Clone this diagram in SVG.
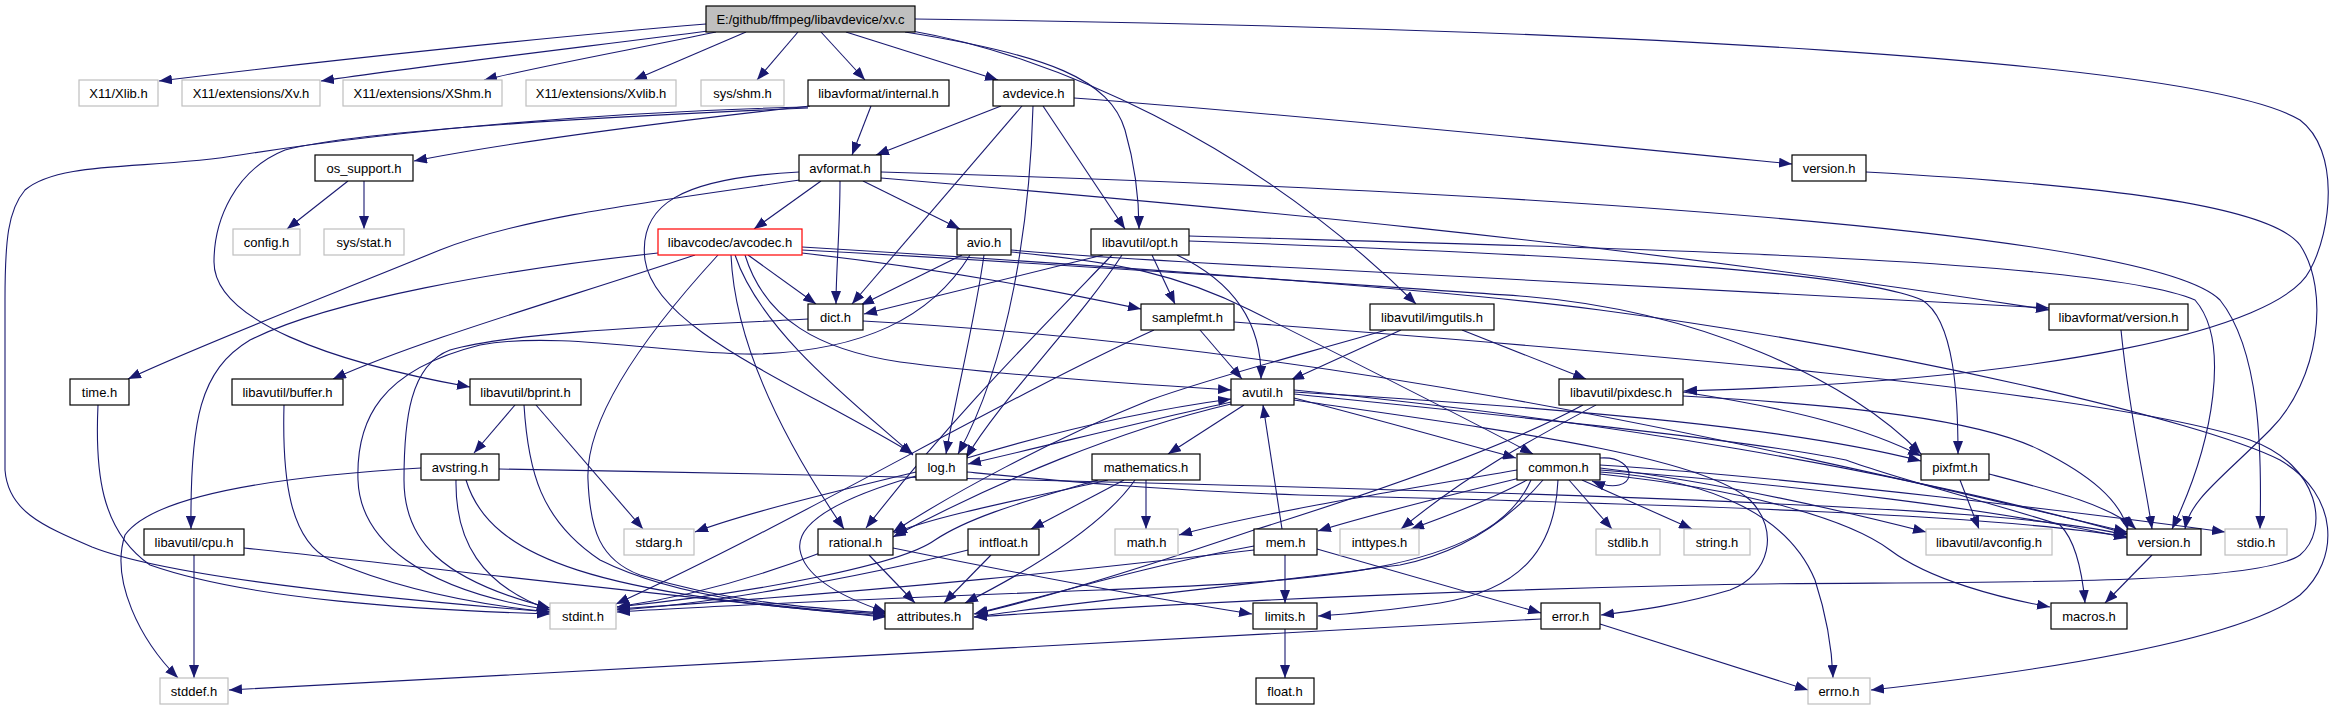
<svg xmlns="http://www.w3.org/2000/svg" width="2335" height="709" viewBox="0 0 2335 709">
<style>
.n rect{fill:#fff;stroke:#000;stroke-width:1.2}
.g rect{fill:#fff;stroke:#bfbfbf;stroke-width:1.2}
.r rect{fill:#fff;stroke:#ff0000;stroke-width:1.2}
.root rect{fill:#bfbfbf;stroke:#000;stroke-width:1.2}
text{font-family:"Liberation Sans",Arial,sans-serif;font-size:13px;text-anchor:middle;fill:#000}
#edges path{fill:none;stroke:#191970;stroke-width:1.1;marker-end:url(#a)}
</style>
<defs>
<marker id="a" viewBox="0 0 13 10" refX="13" refY="5" markerWidth="13" markerHeight="10" orient="auto" markerUnits="userSpaceOnUse"><path d="M0,0L13,5L0,10z" fill="#191970"/></marker>
</defs>
<rect width="2335" height="709" fill="#fff"/>
<g id="edges">
<path d="M706,24 C560,36 330,60 159,81"/>
<path d="M708,31 C600,45 430,65 321,81"/>
<path d="M716,32 C640,48 550,64 484,80"/>
<path d="M746,32 L634,80"/>
<path d="M798,32 L757,80"/>
<path d="M821,32 L865,80"/>
<path d="M846,32 L998,80"/>
<path d="M905,32 C1050,55 1110,80 1125,130 C1135,165 1139,200 1139,229"/>
<path d="M912,31 C1050,55 1250,140 1416,304"/>
<path d="M915,19 C1600,28 2200,60 2300,120 C2340,150 2332,230 2310,270 C2280,330 2050,380 1684,391"/>
<path d="M871,106 L852,155"/>
<path d="M810,106 C700,118 520,140 414,161"/>
<path d="M808,107 C600,112 400,130 240,155 C150,170 60,160 25,190 C8,210 5,240 5,300 L5,470 C8,510 40,525 92,547 C150,570 300,592 550,612"/>
<path d="M808,108 C620,116 360,130 285,150 C235,170 214,220 214,262 C214,320 330,362 470,387"/>
<path d="M1001,106 L876,155"/>
<path d="M1022,106 L852,304"/>
<path d="M1033,106 C1030,220 1010,360 958,454"/>
<path d="M1043,106 L1125,229"/>
<path d="M1074,98 C1300,115 1600,145 1792,164"/>
<path d="M821,181 L754,229"/>
<path d="M840,181 C840,230 836,270 836,304"/>
<path d="M863,181 L960,229"/>
<path d="M799,172 C680,178 638,205 645,260 C655,330 800,385 913,454"/>
<path d="M800,180 C640,203 520,218 440,250 C330,295 200,345 128,379"/>
<path d="M881,172 C1500,190 2150,230 2220,300 C2260,350 2262,450 2260,529"/>
<path d="M881,178 C1200,205 1600,240 2049,310"/>
<path d="M1866,172 C2100,185 2270,205 2300,245 C2330,290 2320,380 2270,430 C2220,480 2190,500 2185,529"/>
<path d="M348,181 L287,229"/>
<path d="M364,181 L364,229"/>
<path d="M748,255 L816,304"/>
<path d="M802,253 C950,270 1050,290 1141,309"/>
<path d="M745,255 C765,320 820,350 900,362 C1000,375 1150,385 1231,390"/>
<path d="M735,255 C760,330 850,400 913,455"/>
<path d="M731,255 C735,350 790,450 844,529"/>
<path d="M718,255 C640,340 585,420 588,480 C590,530 600,560 640,575 C720,600 800,608 886,613"/>
<path d="M658,253 C500,270 330,300 250,340 C200,370 190,420 191,529"/>
<path d="M695,255 C560,300 420,340 333,379"/>
<path d="M802,250 C1100,266 1400,288 1520,296 C1700,310 1850,380 1921,454"/>
<path d="M802,247 C1100,265 1450,290 1600,310 C1900,350 2200,420 2280,460 C2340,495 2340,560 2300,595 C2240,640 2050,670 1871,690"/>
<path d="M962,255 L861,305"/>
<path d="M984,255 C975,320 955,400 946,454"/>
<path d="M970,255 C930,320 860,350 760,354 C680,356 560,330 480,345 C380,370 356,420 358,480 C360,540 420,590 550,610"/>
<path d="M1011,250 C1080,256 1180,262 1300,268 C1600,285 1850,296 2049,308"/>
<path d="M1011,252 C1120,262 1180,275 1250,310 C1350,360 1450,410 1533,454"/>
<path d="M1152,255 L1175,304"/>
<path d="M1177,255 C1230,280 1262,320 1261,379"/>
<path d="M1103,255 C1000,280 920,300 864,314"/>
<path d="M1122,255 C1080,320 1000,400 966,458"/>
<path d="M1112,255 C1030,340 950,420 866,528"/>
<path d="M1189,241 C1500,252 1850,268 1922,300 C1955,320 1958,400 1958,454"/>
<path d="M1189,236 C1600,248 2100,258 2195,300 C2230,340 2215,440 2172,529"/>
<path d="M808,319 C700,325 520,330 450,350 C410,365 404,420 404,480 C404,540 440,580 550,608"/>
<path d="M863,321 C1300,345 1700,430 2127,532"/>
<path d="M1200,330 L1242,379"/>
<path d="M1154,330 C1000,400 800,520 616,604"/>
<path d="M1234,322 C1600,350 2100,390 2250,440 C2320,465 2330,530 2300,555 C2250,590 1900,580 1700,585 C1400,592 1150,605 974,617"/>
<path d="M1401,330 L1291,380"/>
<path d="M1462,330 L1586,379"/>
<path d="M1386,330 C1300,355 1220,375 1150,400 C1050,440 950,495 893,532"/>
<path d="M1294,398 C1380,420 1450,440 1516,458"/>
<path d="M1244,405 L1168,454"/>
<path d="M1231,402 C1150,420 1050,445 968,464"/>
<path d="M1231,404 C1120,430 1000,480 893,537"/>
<path d="M1294,392 C1600,410 1800,430 1921,461"/>
<path d="M1294,400 C1500,430 1700,455 1750,500 C1780,530 1770,575 1730,590 C1680,605 1640,610 1601,615"/>
<path d="M1294,394 C1500,415 1750,440 1846,460 C1900,480 2000,505 2060,525 C2075,540 2082,570 2085,603"/>
<path d="M1294,390 C1600,420 1900,470 2128,534"/>
<path d="M967,458 C1060,430 1150,410 1231,399"/>
<path d="M916,472 C820,495 740,515 695,532"/>
<path d="M916,476 C850,495 795,520 800,550 C805,580 850,600 886,612"/>
<path d="M967,472 C1050,480 1150,490 1300,495 C1700,505 2000,515 2127,537"/>
<path d="M1282,529 L1263,405"/>
<path d="M1285,555 L1285,603"/>
<path d="M1317,549 L1541,613"/>
<path d="M1254,546 C1150,565 1050,595 974,614"/>
<path d="M1254,550 C1100,568 900,590 617,609"/>
<path d="M1146,480 L1146,529"/>
<path d="M1124,480 L1031,529"/>
<path d="M1108,480 C1020,500 940,515 894,533"/>
<path d="M1098,480 C1010,505 965,520 935,540 C900,565 760,592 617,607"/>
<path d="M1135,480 C1100,530 1020,575 965,603"/>
<path d="M820,553 C750,580 680,598 617,607"/>
<path d="M869,555 L915,603"/>
<path d="M893,548 C1000,570 1150,598 1252,614"/>
<path d="M968,550 C850,580 700,605 617,610"/>
<path d="M991,555 L944,603"/>
<path d="M1600,458 C1640,455 1640,500 1592,481"/>
<path d="M1569,480 L1612,529"/>
<path d="M1582,480 L1692,529"/>
<path d="M1527,480 C1490,500 1450,515 1411,529"/>
<path d="M1517,470 C1400,490 1250,515 1179,535"/>
<path d="M1520,478 C1450,495 1370,515 1318,531"/>
<path d="M1558,480 C1555,550 1520,590 1440,603 C1390,610 1350,614 1318,616"/>
<path d="M1543,480 C1500,530 1450,555 1400,565 C1250,585 1050,605 974,617"/>
<path d="M1531,480 C1490,575 1300,582 1100,590 C900,598 700,606 617,612"/>
<path d="M1600,472 C1720,480 1790,520 1815,580 C1828,620 1832,650 1833,678"/>
<path d="M1600,465 C1800,478 2100,515 2225,532"/>
<path d="M1600,468 C1700,480 1820,505 1926,532"/>
<path d="M1600,470 C1800,485 2000,510 2127,538"/>
<path d="M1600,474 C1750,490 1850,520 1890,550 C1930,580 2000,598 2050,607"/>
<path d="M1960,480 L1979,529"/>
<path d="M1989,474 C2050,490 2110,505 2136,529"/>
<path d="M1683,392 C1800,410 1870,430 1921,456"/>
<path d="M1596,405 C1540,435 1470,472 1401,529"/>
<path d="M1583,405 C1500,450 1350,500 1254,530 C1180,555 1060,595 975,614"/>
<path d="M1683,396 C1850,405 1980,420 2040,450 C2090,475 2120,500 2128,530"/>
<path d="M2121,330 C2130,420 2145,480 2152,529"/>
<path d="M2152,555 L2105,603"/>
<path d="M1285,629 L1285,678"/>
<path d="M1600,624 L1808,690"/>
<path d="M1541,619 C1200,640 600,668 229,690"/>
<path d="M421,468 C250,478 150,500 125,535 C110,580 140,640 178,678"/>
<path d="M456,480 C455,540 480,585 550,610"/>
<path d="M466,480 C490,560 600,595 886,616"/>
<path d="M499,469 C900,476 1500,490 1800,505 C1950,512 2060,520 2127,535"/>
<path d="M515,405 L474,453"/>
<path d="M536,405 L643,529"/>
<path d="M524,405 C528,470 540,520 600,560 C680,600 800,610 886,614"/>
<path d="M284,405 C282,480 290,540 330,560 C400,590 480,605 550,612"/>
<path d="M98,405 C95,470 100,530 150,565 C250,600 420,610 550,614"/>
<path d="M194,555 L194,678"/>
<path d="M244,548 C450,570 700,600 886,617"/>
</g>
<g id="n_root" class="root"><rect x="706" y="6" width="209" height="26"/><text x="810.5" y="23.5">E:/github/ffmpeg/libavdevice/xv.c</text></g>
<g id="n_xlib" class="g"><rect x="79" y="80" width="79" height="26"/><text x="118.5" y="97.5">X11/Xlib.h</text></g>
<g id="n_xv" class="g"><rect x="182" y="80" width="138" height="26"/><text x="251" y="97.5">X11/extensions/Xv.h</text></g>
<g id="n_xshm" class="g"><rect x="343" y="80" width="159" height="26"/><text x="422.5" y="97.5">X11/extensions/XShm.h</text></g>
<g id="n_xvlib" class="g"><rect x="526" y="80" width="150" height="26"/><text x="601" y="97.5">X11/extensions/Xvlib.h</text></g>
<g id="n_shm" class="g"><rect x="701" y="80" width="83" height="26"/><text x="742.5" y="97.5">sys/shm.h</text></g>
<g id="n_internal" class="n"><rect x="808" y="80" width="141" height="26"/><text x="878.5" y="97.5">libavformat/internal.h</text></g>
<g id="n_avdevice" class="n"><rect x="993" y="80" width="81" height="26"/><text x="1033.5" y="97.5">avdevice.h</text></g>
<g id="n_os_support" class="n"><rect x="315" y="155" width="98" height="26"/><text x="364" y="172.5">os_support.h</text></g>
<g id="n_avformat" class="n"><rect x="799" y="155" width="82" height="26"/><text x="840" y="172.5">avformat.h</text></g>
<g id="n_version_dev" class="n"><rect x="1792" y="155" width="74" height="26"/><text x="1829" y="172.5">version.h</text></g>
<g id="n_config" class="g"><rect x="233" y="229" width="67" height="26"/><text x="266.5" y="246.5">config.h</text></g>
<g id="n_sysstat" class="g"><rect x="324" y="229" width="80" height="26"/><text x="364" y="246.5">sys/stat.h</text></g>
<g id="n_avcodec" class="r"><rect x="658" y="229" width="144" height="26"/><text x="730" y="246.5">libavcodec/avcodec.h</text></g>
<g id="n_avio" class="n"><rect x="957" y="229" width="54" height="26"/><text x="984" y="246.5">avio.h</text></g>
<g id="n_opt" class="n"><rect x="1091" y="229" width="98" height="26"/><text x="1140" y="246.5">libavutil/opt.h</text></g>
<g id="n_dict" class="n"><rect x="808" y="304" width="55" height="26"/><text x="835.5" y="321.5">dict.h</text></g>
<g id="n_samplefmt" class="n"><rect x="1141" y="304" width="93" height="26"/><text x="1187.5" y="321.5">samplefmt.h</text></g>
<g id="n_imgutils" class="n"><rect x="1370" y="304" width="124" height="26"/><text x="1432" y="321.5">libavutil/imgutils.h</text></g>
<g id="n_lavf_version" class="n"><rect x="2049" y="304" width="139" height="26"/><text x="2118.5" y="321.5">libavformat/version.h</text></g>
<g id="n_time" class="n"><rect x="70" y="379" width="59" height="26"/><text x="99.5" y="396.5">time.h</text></g>
<g id="n_buffer" class="n"><rect x="232" y="379" width="111" height="26"/><text x="287.5" y="396.5">libavutil/buffer.h</text></g>
<g id="n_bprint" class="n"><rect x="470" y="379" width="111" height="26"/><text x="525.5" y="396.5">libavutil/bprint.h</text></g>
<g id="n_avutil" class="n"><rect x="1231" y="379" width="63" height="26"/><text x="1262.5" y="396.5">avutil.h</text></g>
<g id="n_pixdesc" class="n"><rect x="1559" y="379" width="124" height="26"/><text x="1621" y="396.5">libavutil/pixdesc.h</text></g>
<g id="n_avstring" class="n"><rect x="421" y="454" width="78" height="26"/><text x="460" y="471.5">avstring.h</text></g>
<g id="n_log" class="n"><rect x="916" y="454" width="51" height="26"/><text x="941.5" y="471.5">log.h</text></g>
<g id="n_mathematics" class="n"><rect x="1092" y="454" width="108" height="26"/><text x="1146" y="471.5">mathematics.h</text></g>
<g id="n_common" class="n"><rect x="1517" y="454" width="83" height="26"/><text x="1558.5" y="471.5">common.h</text></g>
<g id="n_pixfmt" class="n"><rect x="1921" y="454" width="68" height="26"/><text x="1955" y="471.5">pixfmt.h</text></g>
<g id="n_cpu" class="n"><rect x="144" y="529" width="100" height="26"/><text x="194" y="546.5">libavutil/cpu.h</text></g>
<g id="n_stdarg" class="g"><rect x="624" y="529" width="70" height="26"/><text x="659" y="546.5">stdarg.h</text></g>
<g id="n_rational" class="n"><rect x="818" y="529" width="75" height="26"/><text x="855.5" y="546.5">rational.h</text></g>
<g id="n_intfloat" class="n"><rect x="968" y="529" width="71" height="26"/><text x="1003.5" y="546.5">intfloat.h</text></g>
<g id="n_math" class="g"><rect x="1115" y="529" width="63" height="26"/><text x="1146.5" y="546.5">math.h</text></g>
<g id="n_mem" class="n"><rect x="1254" y="529" width="63" height="26"/><text x="1285.5" y="546.5">mem.h</text></g>
<g id="n_inttypes" class="g"><rect x="1340" y="529" width="79" height="26"/><text x="1379.5" y="546.5">inttypes.h</text></g>
<g id="n_stdlib" class="g"><rect x="1596" y="529" width="64" height="26"/><text x="1628" y="546.5">stdlib.h</text></g>
<g id="n_string" class="g"><rect x="1684" y="529" width="66" height="26"/><text x="1717" y="546.5">string.h</text></g>
<g id="n_avconfig" class="g"><rect x="1926" y="529" width="126" height="26"/><text x="1989" y="546.5">libavutil/avconfig.h</text></g>
<g id="n_version_util" class="n"><rect x="2127" y="529" width="74" height="26"/><text x="2164" y="546.5">version.h</text></g>
<g id="n_stdio" class="g"><rect x="2225" y="529" width="62" height="26"/><text x="2256" y="546.5">stdio.h</text></g>
<g id="n_stdint" class="g"><rect x="550" y="603" width="66" height="26"/><text x="583" y="620.5">stdint.h</text></g>
<g id="n_attributes" class="n"><rect x="885" y="603" width="88" height="26"/><text x="929" y="620.5">attributes.h</text></g>
<g id="n_limits" class="n"><rect x="1253" y="603" width="64" height="26"/><text x="1285" y="620.5">limits.h</text></g>
<g id="n_error" class="n"><rect x="1541" y="603" width="59" height="26"/><text x="1570.5" y="620.5">error.h</text></g>
<g id="n_macros" class="n"><rect x="2051" y="603" width="76" height="26"/><text x="2089" y="620.5">macros.h</text></g>
<g id="n_stddef" class="g"><rect x="160" y="678" width="68" height="26"/><text x="194" y="695.5">stddef.h</text></g>
<g id="n_float" class="n"><rect x="1256" y="678" width="58" height="26"/><text x="1285" y="695.5">float.h</text></g>
<g id="n_errno" class="g"><rect x="1808" y="678" width="62" height="26"/><text x="1839" y="695.5">errno.h</text></g>
</svg>
